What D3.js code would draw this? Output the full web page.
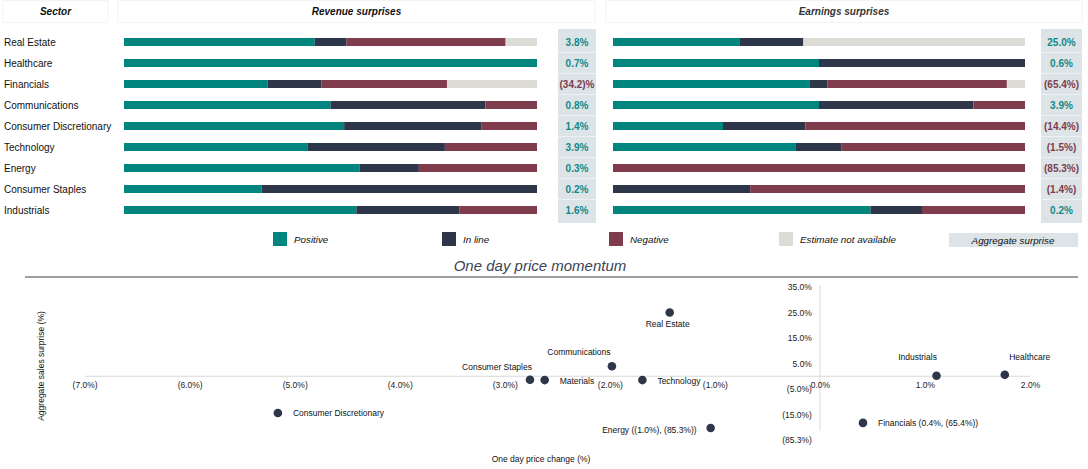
<!DOCTYPE html>
<html>
<head>
<meta charset="utf-8">
<script src="https://cdn.jsdelivr.net/npm/d3@7"></script>
<style>
  body { margin: 0; background: #fff; }
  svg { font-family: "Liberation Sans", Arial, sans-serif; display: block; }
</style>
</head>
<body>
<div id="chart"></div>
<script>
// sectors, top to bottom
const sectors = ["Real Estate", "Healthcare", "Financials", "Communications", "Consumer Discretionary",
  "Technology", "Energy", "Consumer Staples", "Industrials"];
const categories = ["Positive", "In line", "Negative", "Estimate not available"];

// share of companies (%) per category: positive, in line, negative, n/a
const revenueShares = [
  [46.2, 7.7, 38.5, 7.6],
  [100, 0, 0, 0],
  [34.8, 13.0, 30.4, 21.8],
  [50, 37.5, 12.5, 0],
  [53.3, 33.3, 13.4, 0],
  [44.4, 33.3, 22.3, 0],
  [57.1, 14.3, 28.6, 0],
  [33.3, 66.7, 0, 0],
  [56.25, 25, 18.75, 0]
];
const earningsShares = [
  [30.8, 15.4, 0, 53.8],
  [50, 50, 0, 0],
  [47.8, 4.3, 43.5, 4.4],
  [50, 37.5, 12.5, 0],
  [26.7, 20, 53.3, 0],
  [44.4, 11.1, 44.5, 0],
  [0, 0, 100, 0],
  [0, 33.3, 66.7, 0],
  [62.5, 12.5, 25, 0]
];
const revenueAggregate = [3.8, 0.7, -34.2, 0.8, 1.4, 3.9, 0.3, 0.2, 1.6];
const earningsAggregate = [25.0, 0.6, -65.4, 3.9, -14.4, -1.5, -85.3, -1.4, 0.2];

// one day price momentum scatter
const momentumNames = ["Real Estate", "Communications", "Consumer Staples", "Materials", "Technology",
  "Consumer Discretionary", "Energy", "Financials", "Industrials", "Healthcare"];
const momentumChange = [-1.43, -1.98, -2.76, -2.62, -1.69, -5.16, -1.04, 0.41, 1.11, 1.76];
const momentumSurprise = [25.0, 3.9, -1.4, -1.5, -1.5, -14.4, -20.3, -18.3, 0.2, 0.6];
const momentumLabels = ["Real Estate", "Communications", "Consumer Staples", "Materials", "Technology",
  "Consumer Discretionary", "Energy ((1.0%), (85.3%))", "Financials (0.4%, (65.4%))", "Industrials", "Healthcare"];
const xTickValues = [-7, -6, -5, -4, -3, -2, -1, 0, 1, 2];
const yTickValues = [35, 25, 15, 5, -5, -15, -25];
const yTickLabels = ["35.0%", "25.0%", "15.0%", "5.0%", "(5.0%)", "(15.0%)", "(85.3%)"];

const colors = {
  "Positive": "#00857f",
  "In line": "#2e3649",
  "Negative": "#7e3c4c",
  "Estimate not available": "#dcdbd5"
};
const aggFill = "#dce4e8";
const posText = "#138985";
const negText = "#7e3c4c";

const width = 1088, height = 469;

const svg = d3.select("#chart")
  .append("svg")
  .attr("width", width)
  .attr("height", height);

// Header boxes
const headers = [
  { text: "Sector", x0: 3, x1: 108, weight: "bold", color: "#111" },
  { text: "Revenue surprises", x0: 118, x1: 595, weight: "bold", color: "#111" },
  { text: "Earnings surprises", x0: 606, x1: 1082, weight: "600", color: "#333" }
];
const head = svg.selectAll(".header").data(headers).enter().append("g").attr("class", "header");
head.append("rect")
  .attr("x", (d) => d.x0).attr("y", 0.5)
  .attr("width", (d) => d.x1 - d.x0).attr("height", 22)
  .attr("fill", "#fff").attr("stroke", "#f4f4f4");
head.append("text")
  .attr("x", (d) => (d.x0 + d.x1) / 2).attr("y", 15)
  .attr("text-anchor", "middle")
  .attr("font-size", 10).attr("font-style", "italic")
  .attr("font-weight", (d) => d.weight).attr("fill", (d) => d.color)
  .text((d) => d.text);

// Rows
const y = d3.scaleBand().domain(sectors).range([31.5, 220.5]);
const barH = 8;

svg.selectAll(".sector-label")
  .data(sectors).enter().append("text")
  .attr("class", "sector-label")
  .attr("x", 4)
  .attr("y", (d) => y(d) + y.bandwidth() / 2 + 3.5)
  .attr("font-size", 10).attr("fill", "#111")
  .text((d) => d);

const stack = d3.stack().keys(categories);

function drawStacked(shares, range, cls) {
  const x = d3.scaleLinear().domain([0, 100]).range(range);
  const rows = sectors.map((s, i) => {
    const r = { sector: s };
    categories.forEach((c, j) => (r[c] = shares[i][j]));
    return r;
  });
  const series = stack(rows);
  svg.append("g").attr("class", cls)
    .selectAll("g")
    .data(series).enter().append("g")
    .attr("fill", (d) => colors[d.key])
    .selectAll("rect")
    .data((d) => d.filter((p) => p[1] - p[0] > 0))
    .enter().append("rect")
    .attr("x", (p) => x(p[0]))
    .attr("width", (p) => x(p[1]) - x(p[0]))
    .attr("y", (p) => y(p.data.sector) + y.bandwidth() / 2 - barH / 2)
    .attr("height", barH);
}
drawStacked(revenueShares, [124, 537], "revenue-bars");
drawStacked(earningsShares, [613, 1025], "earnings-bars");

// Aggregate surprise columns
function drawAggregate(values, x0, x1, fmt) {
  const g = svg.append("g");
  g.append("rect")
    .attr("x", x0).attr("y", 29)
    .attr("width", x1 - x0).attr("height", 194)
    .attr("fill", aggFill);
  g.selectAll("line")
    .data(sectors.slice(1)).enter().append("line")
    .attr("x1", x0).attr("x2", x1)
    .attr("y1", (d) => y(d)).attr("y2", (d) => y(d))
    .attr("stroke", "#fff").attr("stroke-opacity", 0.5);
  g.selectAll("text")
    .data(values).enter().append("text")
    .attr("x", (x0 + x1) / 2)
    .attr("y", (d, i) => y(sectors[i]) + y.bandwidth() / 2 + 3.5)
    .attr("text-anchor", "middle")
    .attr("font-size", 10).attr("font-weight", "bold")
    .attr("fill", (d) => (d < 0 ? negText : posText))
    .text(fmt);
}
drawAggregate(revenueAggregate, 558, 596,
  (v) => (v < 0 ? `(${Math.abs(v).toFixed(1)})%` : `${v.toFixed(1)}%`));
drawAggregate(earningsAggregate, 1041, 1082,
  (v) => (v < 0 ? `(${Math.abs(v).toFixed(1)}%)` : `${v.toFixed(1)}%`));

// Legend
const legendX = [273, 442, 609, 779];
const legend = svg.selectAll(".legend-item")
  .data(categories).enter().append("g")
  .attr("class", "legend-item")
  .attr("transform", (d, i) => `translate(${legendX[i]},232)`);
legend.append("rect")
  .attr("width", 14).attr("height", 14)
  .attr("fill", (d) => colors[d]);
legend.append("text")
  .attr("x", 21).attr("y", 11)
  .attr("font-size", 9.8).attr("font-style", "italic").attr("fill", "#111")
  .text((d) => d);
svg.append("rect")
  .attr("x", 949).attr("y", 233).attr("width", 129).attr("height", 14)
  .attr("fill", aggFill);
svg.append("text")
  .attr("x", 1013).attr("y", 244)
  .attr("text-anchor", "middle")
  .attr("font-size", 9.8).attr("font-style", "italic").attr("fill", "#111")
  .text("Aggregate surprise");

// One day price momentum
svg.append("text")
  .attr("x", 540).attr("y", 271)
  .attr("text-anchor", "middle")
  .attr("font-size", 15).attr("font-style", "italic").attr("fill", "#3b4453")
  .text("One day price momentum");
svg.append("line")
  .attr("x1", 25).attr("x2", 1078).attr("y1", 277).attr("y2", 277)
  .attr("stroke", "#7f7f7f").attr("stroke-width", 1.3);

const sx = d3.scaleLinear().domain([-7, 2]).range([84.6, 1030]);
const sy = d3.scaleLinear().domain([-25, 35]).range([440, 287]);
const pct = (v) => (v < 0 ? `(${Math.abs(v).toFixed(1)}%)` : `${v.toFixed(1)}%`);

// axes lines
svg.append("line")
  .attr("x1", sx(-7)).attr("x2", sx(2)).attr("y1", sy(0)).attr("y2", sy(0))
  .attr("stroke", "#d9d9d9");
svg.append("line")
  .attr("x1", sx(0)).attr("x2", sx(0)).attr("y1", sy(35.8)).attr("y2", sy(-21.5))
  .attr("stroke", "#d9d9d9");

const xAxis = d3.axisBottom(sx).tickValues(xTickValues).tickFormat(pct).tickSize(0).tickPadding(6);
svg.append("g")
  .attr("class", "x axis")
  .attr("transform", `translate(0,${sy(0)})`)
  .call(xAxis)
  .call((g) => g.select(".domain").remove())
  .selectAll("text")
  .attr("font-family", null).attr("font-size", 8.5).attr("fill", "#222");

const yAxis = d3.axisLeft(sy).tickValues(yTickValues)
  .tickFormat((d, i) => yTickLabels[i]).tickSize(0).tickPadding(8);
svg.append("g")
  .attr("class", "y axis")
  .attr("transform", `translate(${sx(0)},0)`)
  .call(yAxis)
  .call((g) => g.select(".domain").remove())
  .selectAll("text")
  .attr("font-family", null).attr("font-size", 8.5).attr("fill", "#222");

svg.append("text")
  .attr("x", 541).attr("y", 462)
  .attr("text-anchor", "middle")
  .attr("font-size", 8.5).attr("fill", "#111")
  .text("One day price change (%)");
svg.append("text")
  .attr("transform", "translate(44,366) rotate(-90)")
  .attr("text-anchor", "middle")
  .attr("font-size", 8.5).attr("fill", "#111")
  .text("Aggregate sales surprise (%)");

// label placement next to each dot
const labelPos = {
  "Real Estate": { dx: -2, dy: 14, anchor: "middle" },
  "Communications": { dx: -33, dy: -11, anchor: "middle" },
  "Consumer Staples": { dx: -33, dy: -10, anchor: "middle" },
  "Materials": { dx: 15, dy: 3.5, anchor: "start" },
  "Technology": { dx: 15, dy: 3.5, anchor: "start" },
  "Consumer Discretionary": { dx: 15, dy: 3.5, anchor: "start" },
  "Energy": { dx: -14, dy: 5, anchor: "end" },
  "Financials": { dx: 15, dy: 3.5, anchor: "start" },
  "Industrials": { dx: -19, dy: -16, anchor: "middle" },
  "Healthcare": { dx: 25, dy: -15, anchor: "middle" }
};

const points = momentumNames.map((n, i) => ({
  name: n, x: momentumChange[i], y: momentumSurprise[i], label: momentumLabels[i]
}));

const pts = svg.selectAll(".pt").data(points).enter().append("g")
  .attr("class", "pt")
  .attr("transform", (d) => `translate(${sx(d.x)},${sy(d.y)})`);
pts.append("circle").attr("r", 4.3).attr("fill", "#2e3649");
pts.append("text")
  .attr("x", (d) => labelPos[d.name].dx)
  .attr("y", (d) => labelPos[d.name].dy)
  .attr("text-anchor", (d) => labelPos[d.name].anchor)
  .attr("font-size", 8.5).attr("fill", "#111")
  .text((d) => d.label);
</script>
</body>
</html>
